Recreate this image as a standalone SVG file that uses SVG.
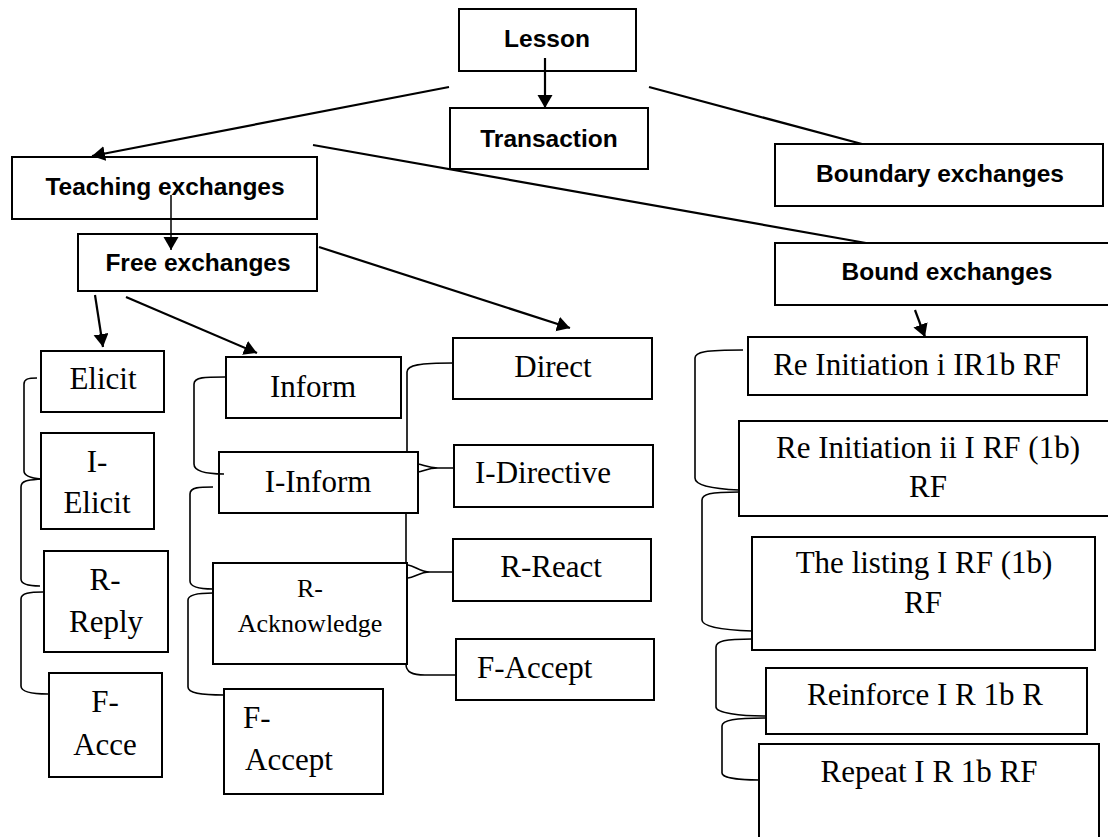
<svg xmlns="http://www.w3.org/2000/svg" width="1108" height="837" viewBox="0 0 1108 837">
<defs>
<marker id="ah" markerUnits="userSpaceOnUse" markerWidth="14" markerHeight="16" refX="13" refY="7.5" orient="auto">
<path d="M0,0 L13,7.5 L0,15 z" fill="#000"/>
</marker>
<style>
.box{fill:#fff;stroke:#000;stroke-width:2}
.b{font-family:"Liberation Sans",Arial,sans-serif;font-weight:bold;font-size:24.5px;fill:#000;text-anchor:middle}
.s{font-family:"Liberation Serif","Times New Roman",serif;font-size:31px;fill:#000;text-anchor:middle}
.sl{font-family:"Liberation Serif","Times New Roman",serif;font-size:31px;fill:#000}
.sm{font-family:"Liberation Serif","Times New Roman",serif;font-size:26px;fill:#000;text-anchor:middle}
.ln{fill:none;stroke:#000;stroke-width:2.2}
.ar{fill:none;stroke:#000;stroke-width:2.2;marker-end:url(#ah)}
.br{fill:none;stroke:#000;stroke-width:1.6}
</style>
</defs>
<rect width="1108" height="837" fill="#fff"/>

<g id="lesson"><rect class="box" x="459" y="9" width="177" height="62"/><text class="b" x="547" y="47">Lesson</text></g>
<g id="transaction"><rect class="box" x="450" y="108" width="198" height="61"/><text class="b" x="549" y="147">Transaction</text></g>
<g id="boundary"><rect class="box" x="775" y="144" width="328" height="62"/><text class="b" x="940" y="182">Boundary exchanges</text></g>
<g id="teaching"><rect class="box" x="12" y="157" width="305" height="62"/><text class="b" x="165" y="195">Teaching exchanges</text></g>
<g id="free"><rect class="box" x="78" y="234" width="239" height="57"/><text class="b" x="198" y="271">Free exchanges</text></g>
<g id="bound"><rect class="box" x="775" y="243" width="340" height="62"/><text class="b" x="947" y="280">Bound exchanges</text></g>

<g id="elicit"><rect class="box" x="41" y="351" width="123" height="61"/><text class="s" x="103" y="389">Elicit</text></g>
<g id="i-elicit"><rect class="box" x="41" y="433" width="113" height="96"/><text class="s" x="97" y="472">I-</text><text class="s" x="97" y="513">Elicit</text></g>
<g id="r-reply"><rect class="box" x="44" y="551" width="124" height="101"/><text class="s" x="105" y="590">R-</text><text class="s" x="106" y="632">Reply</text></g>
<g id="f-acce"><rect class="box" x="49" y="673" width="113" height="104"/><text class="s" x="105" y="712">F-</text><text class="s" x="105" y="755">Acce</text></g>

<g id="inform"><rect class="box" x="226" y="357" width="175" height="61"/><text class="s" x="313" y="397">Inform</text></g>
<g id="i-inform"><rect class="box" x="219" y="452" width="199" height="61"/><text class="s" x="318" y="492">I-Inform</text></g>
<g id="r-acknowledge"><rect class="box" x="213" y="563" width="194" height="101"/><text class="sm" x="310" y="597">R-</text><text class="sm" x="310" y="632">Acknowledge</text></g>
<g id="f-accept-left"><rect class="box" x="224" y="689" width="159" height="105"/><text class="sl" x="243" y="728">F-</text><text class="sl" x="245" y="770">Accept</text></g>

<g id="direct"><rect class="box" x="453" y="338" width="199" height="61"/><text class="s" x="553" y="377">Direct</text></g>
<g id="i-directive"><rect class="box" x="454" y="445" width="199" height="62"/><text class="sl" x="475" y="483">I-Directive</text></g>
<g id="r-react"><rect class="box" x="453" y="539" width="198" height="62"/><text class="s" x="551" y="577">R-React</text></g>
<g id="f-accept-right"><rect class="box" x="456" y="639" width="198" height="61"/><text class="sl" x="477" y="678">F-Accept</text></g>

<g id="reinit-i"><rect class="box" x="748" y="337" width="339" height="58"/><text class="s" x="917" y="375">Re Initiation i IR1b RF</text></g>
<g id="reinit-ii"><rect class="box" x="739" y="421" width="376" height="95"/><text class="s" x="928" y="458">Re Initiation ii I RF (1b)</text><text class="s" x="928" y="497">RF</text></g>
<g id="listing"><rect class="box" x="752" y="537" width="343" height="113"/><text class="s" x="924" y="573">The listing I RF (1b)</text><text class="s" x="923" y="613">RF</text></g>
<g id="reinforce"><rect class="box" x="766" y="668" width="321" height="66"/><text class="s" x="925" y="705">Reinforce I R 1b R</text></g>
<g id="repeat"><rect class="box" x="759" y="744" width="340" height="110"/><text class="s" x="929" y="782">Repeat I R 1b RF</text></g>

<g id="connectors">
<path class="ar" d="M545,58 L545,108"/>
<path class="ar" d="M449,87 L92,156"/>
<path class="ln" d="M649,87 L862,144"/>
<path class="ln" d="M313,145 L866,243"/>
<path class="ar" style="stroke-width:1.5" d="M171,195 L171,250"/>
<path class="ar" d="M95,295 L103,347"/>
<path class="ar" d="M126,297 L257,353"/>
<path class="ar" d="M319,247 L570,328"/>
<path class="ar" d="M915,310 L925,337"/>

<path class="br" d="M37,378 C28,378 24,379 24,384 L24,471 C24,476 30,478 41,479"/>
<path class="br" d="M41,479 C30,480 21,480 21,487 L21,579 C21,584 30,586 40,586"/>
<path class="br" d="M43,592 C30,592 21,593 21,599 L21,686 C21,692 32,694 48,694"/>

<path class="br" d="M225,377 C205,377 194,377 194,384 L194,464 C194,471 205,474 224,474"/>
<path class="br" d="M213,487 C200,487 190,487 190,494 L190,581 C190,587 200,589 213,589"/>
<path class="br" d="M213,593 C200,593 188,594 188,600 L188,687 C188,693 200,695 224,695"/>

<path class="br" d="M453,363 C420,363 407,365 407,372 L407,452"/>
<path class="br" d="M454,468 L438,468 C428,468 424,465 418,464 M438,468 C428,468 424,471 418,472"/>
<path class="br" d="M406,513 L406,563"/>
<path class="br" d="M453,572 L430,572 C420,572 415,566 408,565 M430,572 C420,572 415,577 408,578"/>
<path class="br" d="M406,664 C406,672 412,675 425,675 L456,675"/>

<path class="br" d="M743,350 C705,350 695,352 695,358 L695,478 C695,486 715,489 739,490"/>
<path class="br" d="M739,492 C710,492 702,494 702,500 L702,620 C702,627 725,630 752,631"/>
<path class="br" d="M752,639 C725,639 716,641 716,647 L716,707 C716,713 740,716 766,716"/>
<path class="br" d="M766,718 C735,718 722,720 722,726 L722,773 C722,778 740,780 759,780"/>
</g>
</svg>
